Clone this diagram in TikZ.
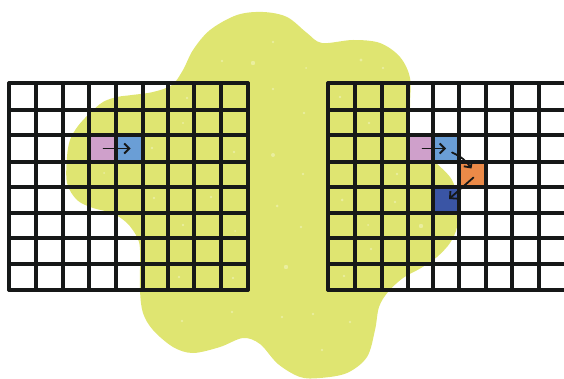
\documentclass[tikz,border=0pt]{standalone}
\usetikzlibrary{arrows.meta,calc}
\definecolor{blob}{RGB}{223,229,113}
\definecolor{speck}{RGB}{234,238,158}
\definecolor{cpink}{RGB}{207,160,203}
\definecolor{cblue}{RGB}{106,158,214}
\definecolor{corange}{RGB}{235,138,72}
\definecolor{cdblue}{RGB}{58,85,165}
\definecolor{ink}{RGB}{22,24,24}
\begin{document}
\begin{tikzpicture}[x=1pt,y=-1pt,
 gridline/.style={ink,line width=3.4pt,line cap=round},
 cell/.style={draw=none,inner sep=0pt,minimum width=27pt,minimum height=26pt},
 arr/.style={ink,line width=1.8pt,line cap=round,-{Straight Barb[length=5pt,width=10pt,line width=1.8pt]}},
 speckle/.style={fill=speck,draw=none}]
\useasboundingbox (0,0) rectangle (564,379);
% background blob
\fill[blob] plot[smooth cycle,tension=0.55] coordinates {
 (263,12) (287,17) (307,33) (322,43) (353,40) (380,43) (400,57) (410,78)
 (410,107) (411,138) (433,160) (452,180) (458,205) (457,227) (450,243)
 (437,257) (421,268) (403,278) (388,292) (379,307) (375,330) (367,357)
 (347,373) (320,378) (300,377) (278,364) (260,344) (243,338) (220,347)
 (193,353) (173,347) (153,330) (143,313) (140,290) (140,250) (137,237)
 (127,223) (112,213) (93,208) (77,200) (67,183) (67,157) (70,140)
 (78,126) (90,113) (103,102) (117,97) (132,95) (153,92) (172,85)
 (183,70) (193,50) (210,30) (237,15)};
% speckles
\foreach \x/\y/\r in {273/42/1.3, 222/61/1.3, 253/63/2.2, 306/68/1, 361/60/1.6,
 383/68/1.3, 273/89/1.3, 187/98/1.3, 340/97/1.3, 304/113/1.3, 183/123/1.2,
 152/148/1.3, 234/152/1.3, 273/155/2, 104/173/1, 154/198/1.3, 211/197/1.3,
 277/206/1.5, 183/225/1.3, 235/231/1, 179/277/1.3, 233/278/1.3, 369/123/1.3,
 303/174/1.3, 397/174/1.3, 342/200/1.5, 395/202/1.3, 301/227/1.3, 368/225/1,
 421/226/2.2, 371/249/1.3, 344/276/1.3, 286/267/2.2, 182/321/1.3, 232/312/1.3,
 282/317/1.3, 313/314/1.3, 350/322/1.3, 322/350/1.3}
  \fill[speckle] (\x,\y) circle (\r);
% coloured cells
\node[cell,fill=cpink] (lpink) at (102.5,148.5) {};
\node[cell,fill=cblue] (lblue) at (129.5,148.5) {};
\node[cell,fill=cpink,minimum width=25pt] (rpink) at (420.5,148.5) {};
\node[cell,fill=cblue] (rblue) at (446,148.5) {};
\node[cell,fill=corange,minimum height=25pt] (rorange) at (472.5,174.5) {};
\node[cell,fill=cdblue] (rdblue) at (446,200) {};
% left grid
\foreach \x in {9,36,63,89,116,143,168,194,221,248}
  \draw[gridline] (\x,83) -- (\x,290);
\foreach \y in {83,110,135,162,187,213,238,264,290}
  \draw[gridline] (9,\y) -- (248,\y);
% right grid
\foreach \x in {328,355,382,408,433,459,486,512,539}
  \draw[gridline] (\x,83) -- (\x,290);
\foreach \y in {83,110,135,162,187,213,238,264,290}
  \draw[gridline] (328,\y) -- (570,\y);
% arrows
\draw[arr] ([xshift=1pt]lpink.center) -- ([xshift=1pt]lblue.center);
\draw[arr] ([xshift=2pt]rpink.center) -- (rblue.center);
\draw[arr] ([shift={(6,4)}]rblue.center) to[bend left=15] ([shift={(-1,-6)}]rorange.center);
\draw[arr] ([shift={(1,3)}]rorange.center) -- ([shift={(3,-1)}]rdblue.center);
\end{tikzpicture}
\end{document}
